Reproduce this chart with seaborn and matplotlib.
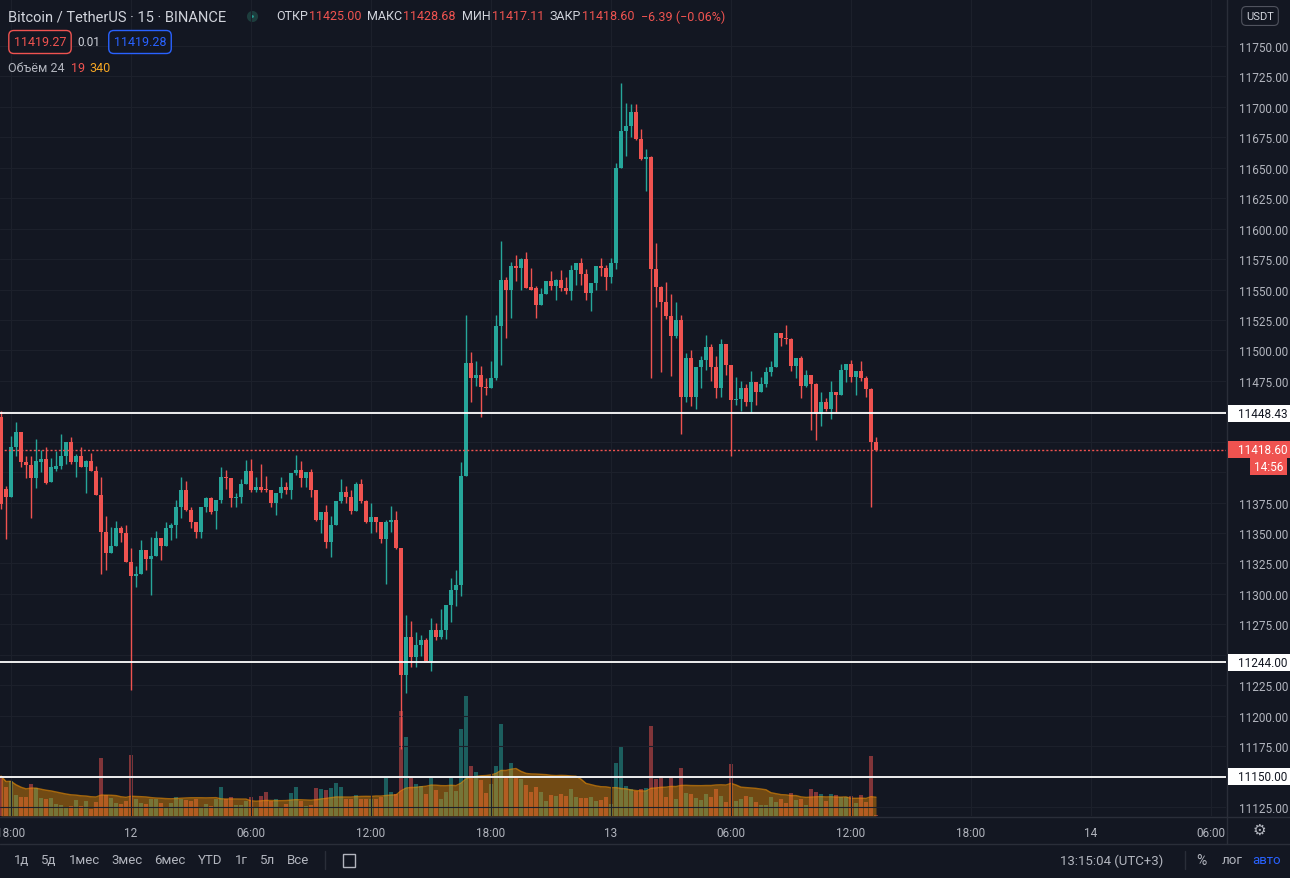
import numpy as np
import pandas as pd
import matplotlib
matplotlib.use('Agg')
import matplotlib.pyplot as plt
import matplotlib.transforms as mtransforms
from matplotlib.lines import Line2D
from matplotlib.patches import Rectangle
import seaborn as sns

# ------------------------------------------------------------
# BTCUSDT (Binance), свечи 15 мин: 11.08 17:30 -> 13.08 13:15 (UTC+3)
# ------------------------------------------------------------
opens = [11445, 11386, 11380, 11421, 11433, 11408, 11406, 11395, 11408, 11411,
         11392, 11403, 11405, 11413, 11425, 11408, 11413, 11404, 11409, 11401,
         11381, 11351, 11334, 11339, 11354, 11350, 11326, 11315, 11316, 11336,
         11329, 11331, 11346, 11339, 11354, 11357, 11371, 11385, 11369, 11359,
         11351, 11371, 11379, 11368, 11377, 11396, 11395, 11379, 11380, 11390,
         11401, 11385, 11388, 11386, 11385, 11375, 11383, 11388, 11385, 11399,
         11402, 11395, 11400, 11385, 11361, 11367, 11343, 11357, 11376, 11384,
         11380, 11368, 11390, 11376, 11359, 11363, 11359, 11345, 11359, 11361,
         11338, 11233, 11265, 11248, 11258, 11262, 11245, 11270, 11265, 11270,
         11291, 11303, 11307, 11397, 11490, 11477, 11480, 11470, 11469, 11477,
         11520, 11558, 11550, 11569, 11568, 11575, 11552, 11551, 11537, 11546,
         11557, 11553, 11558, 11551, 11549, 11566, 11572, 11563, 11547, 11555,
         11569, 11568, 11560, 11572, 11650, 11680, 11684, 11696, 11674, 11657,
         11659, 11567, 11552, 11540, 11528, 11512, 11525, 11462, 11494, 11462,
         11486, 11492, 11503, 11486, 11469, 11505, 11488, 11459, 11460, 11469,
         11458, 11474, 11466, 11472, 11482, 11486, 11514, 11510, 11509, 11487,
         11494, 11471, 11480, 11472, 11448, 11458, 11452, 11466, 11463, 11484,
         11489, 11478, 11483, 11477, 11468, 11425.00]
highs = [11450, 11389, 11430, 11441, 11433, 11413, 11413, 11427, 11418, 11421,
         11412, 11417, 11431, 11425, 11429, 11415, 11421, 11410, 11416, 11405,
         11396, 11364, 11355, 11360, 11356, 11357, 11338, 11323, 11344, 11336,
         11347, 11352, 11346, 11359, 11358, 11377, 11396, 11393, 11371, 11359,
         11371, 11380, 11380, 11377, 11404, 11402, 11395, 11383, 11394, 11410,
         11411, 11396, 11407, 11397, 11385, 11383, 11396, 11392, 11399, 11414,
         11409, 11400, 11403, 11385, 11367, 11373, 11364, 11376, 11394, 11389,
         11385, 11392, 11394, 11377, 11375, 11363, 11359, 11361, 11372, 11368,
         11338, 11283, 11278, 11269, 11266, 11264, 11280, 11276, 11288, 11291,
         11313, 11320, 11408, 11529, 11499, 11491, 11487, 11477, 11491, 11529,
         11590, 11560, 11573, 11578, 11576, 11581, 11568, 11553, 11551, 11557,
         11565, 11559, 11566, 11560, 11570, 11572, 11576, 11567, 11555, 11569,
         11576, 11570, 11576, 11654, 11720, 11703, 11702, 11702, 11682, 11665,
         11660, 11588, 11553, 11556, 11546, 11540, 11529, 11498, 11500, 11486,
         11495, 11513, 11505, 11495, 11509, 11505, 11488, 11478, 11475, 11472,
         11483, 11474, 11478, 11486, 11491, 11514, 11514, 11521, 11510, 11494,
         11495, 11484, 11480, 11473, 11466, 11461, 11475, 11466, 11489, 11489,
         11492, 11483, 11491, 11479, 11469, 11428.68]
lows = [11370, 11345, 11380, 11413, 11404, 11395, 11362, 11387, 11400, 11390,
        11392, 11401, 11403, 11407, 11407, 11396, 11404, 11383, 11401, 11381,
        11316, 11320, 11334, 11339, 11343, 11326, 11221, 11306, 11316, 11320,
        11299, 11331, 11328, 11339, 11344, 11346, 11362, 11368, 11354, 11346,
        11346, 11367, 11366, 11353, 11375, 11386, 11371, 11371, 11375, 11390,
        11384, 11384, 11384, 11384, 11371, 11365, 11379, 11382, 11378, 11398,
        11388, 11388, 11380, 11360, 11350, 11338, 11330, 11357, 11375, 11375,
        11366, 11368, 11375, 11358, 11350, 11351, 11342, 11308, 11351, 11337,
        11173, 11219, 11240, 11240, 11249, 11245, 11237, 11262, 11263, 11263,
        11277, 11290, 11298, 11397, 11458, 11471, 11445, 11463, 11469, 11476,
        11488, 11510, 11527, 11557, 11550, 11551, 11550, 11527, 11537, 11546,
        11550, 11541, 11549, 11546, 11541, 11554, 11554, 11541, 11532, 11550,
        11561, 11550, 11555, 11567, 11650, 11660, 11675, 11673, 11656, 11631,
        11477, 11536, 11482, 11526, 11479, 11510, 11431, 11458, 11454, 11452,
        11469, 11484, 11475, 11461, 11462, 11480, 11413, 11455, 11450, 11454,
        11449, 11455, 11466, 11470, 11479, 11486, 11504, 11505, 11483, 11477,
        11461, 11470, 11435, 11426, 11438, 11450, 11444, 11449, 11463, 11474,
        11474, 11463, 11475, 11462, 11371, 11417.11]
closes = [11374, 11380, 11421, 11433, 11408, 11406, 11395, 11409, 11411, 11391,
          11404, 11405, 11413, 11425, 11408, 11413, 11404, 11409, 11401, 11381,
          11351, 11334, 11339, 11354, 11350, 11326, 11315, 11316, 11336, 11329,
          11331, 11346, 11339, 11354, 11357, 11371, 11385, 11369, 11359, 11351,
          11371, 11379, 11367, 11377, 11396, 11395, 11379, 11380, 11390, 11401,
          11385, 11388, 11385, 11385, 11375, 11383, 11388, 11385, 11399, 11402,
          11395, 11400, 11385, 11361, 11367, 11343, 11357, 11376, 11384, 11380,
          11368, 11390, 11376, 11359, 11363, 11359, 11345, 11359, 11361, 11338,
          11233, 11265, 11248, 11258, 11262, 11245, 11270, 11265, 11270, 11291,
          11303, 11307, 11397, 11490, 11477, 11480, 11470, 11469, 11477, 11520,
          11558, 11550, 11569, 11568, 11575, 11551, 11550, 11537, 11546, 11557,
          11553, 11558, 11551, 11549, 11566, 11572, 11563, 11547, 11555, 11569,
          11568, 11560, 11572, 11650, 11680, 11684, 11696, 11674, 11657, 11659,
          11567, 11552, 11540, 11528, 11512, 11525, 11462, 11494, 11462, 11486,
          11492, 11503, 11486, 11469, 11505, 11488, 11459, 11460, 11469, 11458,
          11474, 11466, 11472, 11482, 11486, 11514, 11510, 11509, 11487, 11494,
          11471, 11480, 11472, 11448, 11458, 11452, 11466, 11463, 11484, 11489,
          11478, 11483, 11477, 11468, 11425, 11418.60]
volumes = [720, 522, 630, 378, 342, 342, 576, 504, 324, 306,
           324, 216, 198, 162, 180, 288, 180, 270, 126, 252,
           1044, 378, 324, 234, 216, 270, 1098, 306, 234, 216,
           306, 306, 234, 162, 234, 342, 306, 288, 270, 306,
           162, 216, 180, 306, 522, 306, 342, 198, 198, 270,
           342, 144, 360, 432, 270, 306, 162, 216, 414, 522,
           270, 180, 198, 504, 486, 468, 504, 594, 522, 306,
           306, 378, 306, 306, 306, 306, 342, 684, 432, 396,
           1890, 1422, 684, 576, 540, 396, 684, 468, 306, 432,
           684, 450, 1566, 2160, 900, 792, 648, 414, 576, 900,
           1656, 702, 954, 702, 666, 558, 432, 522, 432, 270,
           378, 360, 396, 360, 486, 342, 324, 324, 342, 270,
           288, 342, 216, 954, 1260, 540, 486, 450, 486, 504,
           1620, 666, 720, 342, 702, 306, 864, 414, 396, 324,
           288, 396, 342, 486, 360, 252, 936, 270, 306, 360,
           342, 252, 198, 198, 342, 252, 306, 234, 414, 288,
           306, 198, 486, 432, 396, 270, 396, 378, 342, 342,
           360, 234, 378, 252, 1080, 19]

# уровни, нарисованные на графике
levels = [11448.43, 11244.00, 11150.00]
last_price = 11418.60
ma_len = 24

price_ticks = np.arange(11125, 11751, 25)
hidden_ticks = [11150, 11250, 11400, 11425]   # закрыты метками уровней
time_labels = ['18:00', '12', '06:00', '12:00', '18:00', '13', '06:00', '12:00', '18:00', '14', '06:00']
range_buttons = ['1д', '5д', '1мес', '3мес', '6мес', 'YTD', '1г', '5л', 'Все']
ohlc_names = ['ОТКР', 'МАКС', 'МИН', 'ЗАКР']
bid, spread, ask = '11419.27', '0.01', '11419.28'
change_text = '−6.39 (−0.06%)'
vol_now, vol_ma = '19', '340'

# цвета TradingView (тёмная тема)
BG = '#131722'
GRID = '#1c202b'
TXT = '#b2b5be'
LIGHT = '#d1d4dc'
UP = '#26a69a'
DOWN = '#ef5350'
ORANGE = '#ff9800'
BLUE = '#2962ff'
SEP = '#2a2e39'

W, H = 1290, 879


def fx(px):
    return px / W


def fy(py):
    return 1 - py / H


sns.set_theme(style='dark', rc={'axes.facecolor': BG, 'figure.facecolor': BG,
                                'axes.edgecolor': BG, 'grid.color': GRID})
plt.rcParams['font.family'] = ['Roboto', 'DejaVu Sans']

df = pd.DataFrame({'open': opens, 'high': highs, 'low': lows,
                   'close': closes, 'volume': volumes})
df['idx'] = np.arange(len(df))
df['dir'] = np.where(df['close'] >= df['open'], 'up', 'down')
colors = np.where(df['dir'] == 'up', UP, DOWN)

fig = plt.figure(figsize=(W / 100, H / 100), dpi=100)
fig.patch.set_facecolor(BG)

ax = fig.add_axes([0, fy(817), fx(1226), 817 / H])
ax2 = ax.twinx()
ax.set_zorder(2)
ax2.set_zorder(1)
ax.patch.set_visible(False)
ax2.patch.set_visible(False)

# --- объём + скользящая средняя ---
sns.barplot(data=df, x='idx', y='volume', hue='dir', palette={'up': UP, 'down': DOWN},
            native_scale=True, dodge=False, errorbar=None, width=0.7, saturation=1,
            alpha=0.5, legend=False, linewidth=0, edgecolor='none', ax=ax2)
ma = df['volume'].rolling(ma_len, min_periods=1).mean()
ax2.fill_between(df['idx'], 0, ma, color=ORANGE, alpha=0.4, lw=0)
sns.lineplot(x=df['idx'], y=ma, color=ORANGE, lw=1, alpha=0.6, ax=ax2)
ax2.set_ylim(0, 14700)
ax2.set_yticks([])
ax2.set_xlabel('')
ax2.set_ylabel('')
ax2.grid(False)
for s in ax2.spines.values():
    s.set_visible(False)

# --- свечи ---
body_lo = np.minimum(df['open'], df['close'])
body_h = np.maximum((df['close'] - df['open']).abs(), 0.8)
ax.vlines(df['idx'], df['low'], df['high'], colors=colors, lw=1, zorder=3)
ax.bar(df['idx'], body_h, bottom=body_lo, width=0.7, color=colors, lw=0, zorder=3)

for lv in levels:
    ax.axhline(lv, color='white', lw=1.3, zorder=4)
ax.axhline(last_price, color=DOWN, lw=1, ls=(0, (1.5, 1.5)), zorder=4)

ax.set_xlim(-0.2, 245)
ax.set_ylim(11117.6, 11788.6)
tick_pos = np.arange(2, 2 + 24 * len(time_labels), 24)
ax.set_xticks(tick_pos, time_labels)
ax.set_yticks(price_ticks, ['' if p in hidden_ticks else f'{p:.2f}' for p in price_ticks])
ax.yaxis.tick_right()
ax.tick_params(axis='both', length=0, colors=TXT, labelsize=8.5)
ax.tick_params(axis='y', pad=9)
ax.tick_params(axis='x', pad=7)
ax.grid(True, color=GRID, lw=0.8)
ax.set_xlabel('')
ax.set_ylabel('')
for s in ax.spines.values():
    s.set_visible(False)

# --- метки на ценовой шкале ---
tr = mtransforms.blended_transform_factory(fig.transFigure, ax.transData)
px_price = (11788.6 - 11117.6) / 817


def price_tag(y, text, fc, tc):
    h = 17 * px_price
    fig.add_artist(Rectangle((fx(1228), y - h / 2), fx(1290) - fx(1228), h,
                             transform=tr, fc=fc, ec='none', zorder=10))
    fig.text(fx(1238), y, text, transform=tr, color=tc, fontsize=8.5,
             ha='left', va='center', zorder=11)


for lv in levels:
    price_tag(lv, f'{lv:.2f}', 'white', BG)
price_tag(last_price, f'{last_price:.2f}', DOWN, 'white')
fig.add_artist(Rectangle((fx(1250), fy(476)), fx(37), 17 / H, fc=DOWN, ec='none', zorder=10))
fig.text(fx(1268.5), fy(467.5), '14:56', color='white', fontsize=8.5, ha='center', va='center', zorder=11)

fig.text(fx(1260), fy(17), 'USDT', color=LIGHT, fontsize=8, ha='center', va='center',
         bbox=dict(boxstyle='round,pad=0.4', fc=BG, ec='#50535e', lw=0.8))

# --- разделители ---
for xs, ys in [([1226.5, 1226.5], [0, 845]), ([0, 1290], [817.5, 817.5]),
               ([0, 1290], [845, 845]), ([325, 325], [852, 870]), ([1185, 1185], [852, 870])]:
    fig.add_artist(Line2D([fx(v) for v in xs], [fy(v) for v in ys], color=SEP, lw=1))

# --- заголовок ---
fig.text(fx(8), fy(17), 'Bitcoin / TetherUS · 15 · BINANCE', color=LIGHT, fontsize=10.5,
         ha='left', va='center')
fig.add_artist(Line2D([fx(252)], [fy(17)], marker='o', ms=5, mfc=UP, mec='#1d3d3d', mew=3))

renderer = fig.canvas.get_renderer()
ohlc_vals = [f'{opens[-1]:.2f}', f'{highs[-1]:.2f}', f'{lows[-1]:.2f}', f'{closes[-1]:.2f}']
x = 276
for name, val in zip(ohlc_names, ohlc_vals):
    t = fig.text(fx(x), fy(17), name, color=LIGHT, fontsize=9, ha='left', va='center')
    x += t.get_window_extent(renderer).width + 1
    t = fig.text(fx(x), fy(17), val, color=DOWN, fontsize=9, ha='left', va='center')
    x += t.get_window_extent(renderer).width + 6
fig.text(fx(x), fy(17), change_text, color=DOWN, fontsize=9, ha='left', va='center')

fig.text(fx(40), fy(43), bid, color=DOWN, fontsize=9, ha='center', va='center',
         bbox=dict(boxstyle='round,pad=0.4', fc=BG, ec=DOWN, lw=1))
fig.text(fx(89), fy(43), spread, color=LIGHT, fontsize=8.5, ha='center', va='center')
fig.text(fx(140), fy(43), ask, color=BLUE, fontsize=9, ha='center', va='center',
         bbox=dict(boxstyle='round,pad=0.4', fc=BG, ec=BLUE, lw=1))

fig.text(fx(8), fy(69), f'Объём {ma_len}', color=TXT, fontsize=9, ha='left', va='center')
fig.text(fx(71), fy(69), vol_now, color=DOWN, fontsize=9, ha='left', va='center')
fig.text(fx(89), fy(69), vol_ma, color='#f5a623', fontsize=9, ha='left', va='center')

# --- нижняя панель ---
btn_x = [22, 49, 85, 127, 170, 210, 241, 268, 298]
for bx, t in zip(btn_x, range_buttons):
    fig.text(fx(bx), fy(861), t, color=TXT, fontsize=9.5, ha='center', va='center')
fig.add_artist(Rectangle((fx(343), fy(868)), fx(12), 13 / H, fc='none', ec=TXT, lw=1))
fig.text(fx(1112), fy(861), '13:15:04 (UTC+3)', color=TXT, fontsize=9.5, ha='center', va='center')
fig.text(fx(1201), fy(861), '%', color=TXT, fontsize=10, ha='center', va='center')
fig.text(fx(1232), fy(861), 'лог', color=TXT, fontsize=9.5, ha='center', va='center')
fig.text(fx(1267), fy(861), 'авто', color=BLUE, fontsize=9.5, ha='center', va='center')
fig.text(fx(1259), fy(831), '⚙', color=TXT, fontsize=11, ha='center', va='center')

fig.savefig('out.png', dpi=100, facecolor=BG)
